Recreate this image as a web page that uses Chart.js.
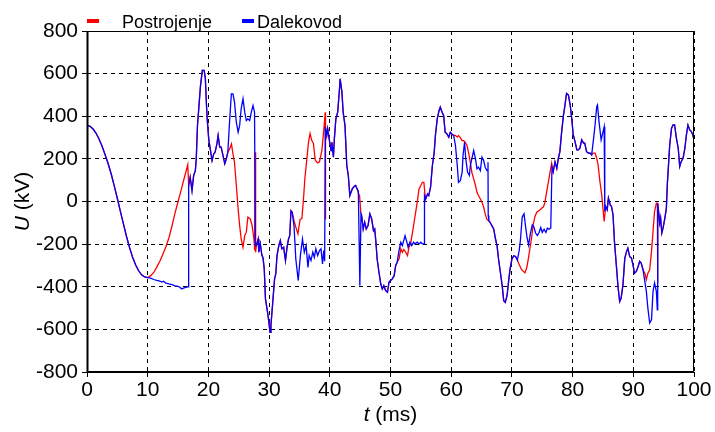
<!DOCTYPE html>
<html>
<head>
<meta charset="utf-8">
<script src="https://cdn.jsdelivr.net/npm/chart.js@4/dist/chart.umd.min.js"></script>
<style>
  html, body { margin: 0; padding: 0; background: #fff; }
  #wrap { width: 715px; height: 432px; }
</style>
</head>
<body>
<div id="wrap"><canvas id="napon" width="715" height="432"></canvas></div>
<script>
// Time (ms) and voltage (kV), red = Postrojenje
const tPostrojenje = [
  0, 0.5, 1, 1.5, 2, 2.5, 3, 3.5, 4, 4.5, 5, 5.5, 6, 6.5, 7, 7.5, 8, 8.5, 9, 9.5, 10,
  10.5, 11, 11.5, 12, 12.5, 13, 13.5, 14, 14.5, 15, 15.5, 16, 16.6,
  16.75, 17.0, 17.3, 17.57, 17.85, 18.0, 18.2, 18.45, 18.7, 19.0, 19.3, 19.5, 19.66, 19.8, 20.05, 20.3, 20.6, 20.87, 21.1, 21.4, 21.6, 21.86, 22.1, 22.4, 22.7, 22.95, 23.2,
  23.5, 23.8, 24.05, 24.3, 24.6, 24.9, 25.15, 25.4, 25.7, 25.98, 26.25, 26.5, 26.9, 27.2, 27.5, 27.62, 27.7, 27.78,
  27.9, 28.2, 28.3, 28.55, 28.8, 29.0, 29.2, 29.4, 29.66, 29.9, 30.15, 30.3, 30.6, 30.9, 31.1, 31.3, 31.6, 31.85, 32.1, 32.4, 32.7, 32.95, 33.2, 33.4, 33.6, 33.8,
  34.1, 34.4, 34.75, 35.1, 35.4, 35.65, 35.9, 36.2, 36.5, 36.75, 37.0, 37.3, 37.6, 38.0, 38.3, 38.7, 39.0, 39.25, 39.28, 39.31,
  39.5, 39.65, 39.9, 40.2, 40.35, 40.6, 40.75, 41.0, 41.3, 41.6, 41.7, 42.0, 42.2, 42.5, 42.8, 43.05, 43.3, 43.45, 43.7, 44.0, 44.26, 44.5,
  44.7, 44.9, 45.1,
  45.25, 45.5, 45.75, 46.0, 46.3, 46.6, 46.9, 47.2, 47.4, 47.6, 47.8, 48.1, 48.4, 48.65, 48.9, 49.2, 49.5, 49.75, 50.0, 50.3, 50.6, 50.85, 51.1,
  51.4, 51.7, 51.95, 52.2, 52.5, 52.8, 53.04, 53.3, 53.6, 53.9, 54.15, 54.45, 54.7, 55.0, 55.25, 55.5, 55.7,
  55.8, 56.1, 56.3, 56.6, 56.9, 57.2, 57.4, 57.7, 58.0, 58.2, 58.5, 58.76, 59.0, 59.3, 59.6, 59.86, 60.1, 60.4,
  60.7, 61.0, 61.2, 61.5, 61.8, 62.05, 62.3, 62.6, 62.9, 63.15, 63.4, 63.7, 64.0, 64.25, 64.5, 64.8, 65.07, 65.35, 65.6, 65.9,
  66.2, 66.45, 66.7, 67.0, 67.3, 67.55, 67.8, 68.1, 68.4, 68.65, 68.9, 69.2, 69.5, 69.7, 70.0, 70.3, 70.6, 70.9,
  71.1, 71.6, 72.15, 72.45, 72.7, 73.0, 73.25, 73.5, 73.8, 74.1, 74.6, 74.9, 75.2, 75.45, 75.7, 76.0, 76.3, 76.55,
  76.8, 77.1, 77.4, 77.65, 77.9, 78.2, 78.5, 78.75, 79.0, 79.3, 79.6, 79.85, 80.1, 80.4, 80.7, 80.95, 81.2, 81.5, 81.8, 82.0, 82.3, 82.6, 82.9, 83.14,
  83.4, 83.7, 83.97, 84.2, 84.5, 84.8, 85.05, 85.2,
  85.45, 85.7, 85.9, 86.2, 86.4, 86.66, 86.9, 87.2, 87.5, 87.76, 88.0, 88.3, 88.6, 88.9, 89.1, 89.4, 89.7, 89.95, 90.2, 90.5, 90.8, 91.05, 91.3, 91.6,
  91.9, 92.15, 92.4, 92.7, 93.0, 93.25, 93.5, 93.8, 93.96, 94.0, 94.05,
  94.2, 94.35, 94.5, 94.7, 94.9, 95.2, 95.45, 95.6, 95.8, 96.0, 96.3, 96.55, 96.8, 97.1, 97.4, 97.65, 97.9, 98.2, 98.5, 98.75, 99.0, 99.3, 99.56, 99.8, 100
];
const uPostrojenje = [
  357, 353, 340, 320, 292, 258, 218, 176, 128, 72, 14, -46, -105, -163, -215, -260, -297, -325, -344, -354, -357,
  -348, -333, -308, -280, -248, -212, -170, -115, -55, 0, 52, 108, 172,
  75, 114, 51, 122, 145, 200, 357, 450, 544, 615, 615, 576, 466, 388, 294, 247, 192, 223, 231, 270, 310, 255, 255, 216, 177, 200, 231,
  247, 270, 223, 184, 75, -35, -113, -176, -215, -160, -144, -74, -82, -113, -176, -230, 231, -238,
  -207, -176, -238, -199, -250, -265, -316, -457, -504, -551, -614, -582, -473, -363, -340, -254, -207, -183, -222, -215, -277, -215, -176, -160, -43, -50,
  -89, -120, -152, -84, -80, 6, 110, 194, 280, 319, 288, 272, 194, 181, 186, 240, 334, 419, -85, 349,
  310, 341, 294, 239, 278, 208, 294, 388, 419, 529, 576, 513, 419, 357, 169, 122, 28, 40, 59, 70, 75, 59,
  40, 28, -50,
  -66, -129, -97, -129, -113, -58, -82, -137, -129, -191, -270, -332, -387, -410, -395, -418, -426, -379, -371, -363, -348, -301, -285,
  -270, -222, -238, -225, -238, -254, -215, -200, -150, -95, -50, 5, 59, 75, 90, 90, 28,
  12, 35, 28, 67, 169, 231, 310, 388, 427, 443, 419, 403, 325, 317, 302, 325, 317, 310,
  310, 302, 310, 300, 286, 286, 278, 263, 223, 184, 137, 106, 75, 43, 28, 12, -3, -27, -58, -85,
  -90, -100, -113, -129, -176, -207, -270, -332, -395, -465, -473, -442, -363, -316, -270, -255, -258, -275,
  -290, -320, -335, -310, -270, -215, -170, -110, -70, -50, -40, -32, -25, -3, 40, 90, 140, 180,
  139, 186, 155, 202, 233, 328, 406, 453, 507, 500, 453, 391, 313, 281, 242, 242, 250, 289, 274, 274, 234, 227, 227, 219,
  227, 227, 203, 172, 94, 31, -47, -94,
  -23, -39, 16, -16, -23, -62, -190, -297, -406, -469, -453, -390, -266, -234, -219, -258, -266, -297, -336, -328, -305, -281, -289, -320,
  -336, -367, -336, -320, -234, -141, -47, -8, -8, -383, -8,
  -55, -102, -78, -148, -125, -78, -31, 78, 172, 266, 344, 359, 359, 297, 250, 164, 188, 203, 250, 313, 359, 336, 328, 313, 289
];

// blue = Dalekovod
const tDalekovod = [
  0, 0.5, 1, 1.5, 2, 2.5, 3, 3.5, 4, 4.5, 5, 5.5, 6, 6.5, 7, 7.5, 8, 8.5, 9, 9.5, 10,
  10.5, 11, 11.5, 12, 12.3, 12.6, 13, 13.5, 14, 14.5, 15, 15.3, 15.6, 16, 16.4, 16.7,
  16.75, 17.0, 17.3, 17.57, 17.85, 18.0, 18.2, 18.45, 18.7, 19.0, 19.3, 19.5, 19.66, 19.8, 20.05, 20.3, 20.6, 20.87, 21.1, 21.4, 21.6, 21.86, 22.1, 22.4, 22.7, 22.95, 23.2,
  23.5, 23.78, 24.05, 24.3, 24.6, 24.9, 25.15, 25.4, 25.7, 25.98, 26.25, 26.5, 26.8, 27.07, 27.35, 27.6, 27.73,
  27.9, 28.2, 28.3, 28.55, 28.8, 29.0, 29.2, 29.4, 29.66, 29.9, 30.15, 30.3, 30.6, 30.9, 31.1, 31.3, 31.6, 31.85, 32.1, 32.4, 32.7, 32.95, 33.2, 33.4, 33.6, 33.8,
  34.1, 34.4, 34.8, 35.15, 35.5, 35.8, 36.1, 36.4, 36.6, 36.9, 37.2, 37.45, 37.7, 38.0, 38.3, 38.55, 38.8, 39.0, 39.15, 39.27,
  39.5, 39.65, 39.9, 40.2, 40.35, 40.6, 40.75, 41.0, 41.3, 41.6, 41.7, 42.0, 42.2, 42.5, 42.8, 43.05, 43.3, 43.45, 43.7, 44.0, 44.26, 44.5,
  44.7, 44.95, 45.14,
  45.25, 45.5, 45.75, 46.0, 46.3, 46.6, 46.9, 47.2, 47.4, 47.6, 47.8, 48.1, 48.4, 48.65, 48.9, 49.2, 49.5, 49.75, 50.0, 50.3, 50.6, 50.85, 51.1,
  51.4, 51.7, 51.95, 52.4, 52.7, 52.9, 53.2, 53.5, 53.8, 54.0, 54.4, 54.7, 55.0, 55.25, 55.55, 55.6,
  55.8, 56.1, 56.3, 56.6, 56.9, 57.2, 57.4, 57.7, 58.0, 58.2, 58.5, 58.76, 59.0, 59.3, 59.6, 59.86, 60.1, 60.4,
  60.7, 61.0, 61.2, 61.5, 61.8, 61.95, 62.2, 62.4, 62.7, 63.0, 63.15, 63.4, 63.7, 64.0, 64.25, 64.5, 64.8, 65.07, 65.35, 65.6, 65.9, 66.06, 66.1,
  66.2, 66.45, 66.7, 67.0, 67.3, 67.55, 67.8, 68.1, 68.4, 68.65, 68.9, 69.2, 69.5, 69.7, 70.0, 70.3, 70.6, 70.9,
  71.2, 71.4, 71.7, 72.0, 72.3, 72.5, 72.75, 73.05, 73.36, 73.6, 73.9, 74.2, 74.5, 74.75, 75.0, 75.3, 75.6, 75.85, 76.1, 76.4, 76.6,
  76.8, 77.1, 77.4, 77.65, 77.9, 78.2, 78.5, 78.75, 79.0, 79.3, 79.6, 79.85, 80.1, 80.4, 80.7, 80.95, 81.2, 81.5, 81.8, 82.0, 82.3, 82.6, 82.9, 83.14,
  83.4, 83.7, 83.97, 84.1, 84.35, 84.7, 84.95, 85.2, 85.3,
  85.45, 85.7, 85.9, 86.2, 86.4, 86.66, 86.9, 87.2, 87.5, 87.76, 88.0, 88.3, 88.6, 88.9, 89.1, 89.4, 89.7, 89.95, 90.2, 90.5, 90.8, 91.05, 91.3, 91.6,
  91.9, 92.15, 92.4, 92.7, 93.0, 93.25, 93.5, 93.8, 93.96, 94.02,
  94.2, 94.35, 94.5, 94.7, 94.9, 95.2, 95.45, 95.6, 95.8, 96.0, 96.3, 96.55, 96.8, 97.1, 97.4, 97.65, 97.9, 98.2, 98.5, 98.75, 99.0, 99.3, 99.56, 99.8, 100
];
const uDalekovod = [
  357, 353, 340, 320, 292, 258, 218, 176, 128, 72, 14, -46, -105, -163, -215, -260, -297, -325, -344, -354, -357,
  -360, -366, -370, -373, -378, -374, -383, -387, -390, -396, -398, -402, -410, -405, -402, -400,
  75, 114, 51, 122, 145, 200, 357, 450, 544, 615, 615, 576, 466, 388, 294, 247, 192, 223, 231, 270, 310, 255, 255, 216, 177, 200, 231,
  380, 505, 505, 466, 372, 325, 357, 435, 482, 419, 380, 388, 380, 419, 450, 419, -207,
  -207, -176, -238, -199, -250, -265, -316, -457, -504, -551, -614, -582, -473, -363, -340, -254, -207, -183, -222, -215, -277, -215, -176, -160, -43, -50,
  -113, -270, -371, -254, -176, -238, -207, -309, -254, -277, -238, -262, -222, -254, -230, -222, -293, -230, -280, 349,
  310, 341, 294, 239, 278, 208, 294, 388, 419, 529, 576, 513, 419, 357, 169, 122, 28, 40, 59, 70, 75, 59,
  50, -395, -58,
  -66, -129, -97, -129, -113, -58, -82, -137, -129, -191, -270, -332, -387, -410, -395, -418, -426, -379, -371, -363, -348, -301, -285,
  -230, -191, -207, -160, -191, -215, -191, -207, -191, -199, -191, -199, -191, -199, -199, 28,
  12, 35, 28, 67, 169, 231, 310, 388, 427, 443, 419, 403, 325, 317, 302, 325, 317, 310,
  263, 169, 90, 98, 137, 216, 278, 200, 137, 122, 169, 200, 239, 200, 153, 161, 145, 208, 192, 161, 145, 184, -66,
  -90, -100, -113, -129, -176, -207, -270, -332, -395, -465, -473, -442, -363, -316, -270, -255, -258, -275,
  -230, -183, -73, -58, -128, -170, -205, -150, -110, -118, -148, -160, -144, -122, -145, -130, -145, -125, -130, -125, 160,
  139, 186, 155, 202, 233, 328, 406, 453, 507, 500, 453, 391, 313, 281, 242, 242, 250, 289, 274, 274, 234, 227, 227, 219,
  281, 359, 445, 453, 375, 289, 320, 351, -47,
  -23, -39, 16, -16, -23, -62, -190, -297, -406, -469, -453, -390, -266, -234, -219, -258, -266, -297, -336, -328, -305, -281, -289, -320,
  -375, -422, -500, -570, -555, -422, -383, -422, -508, -8,
  -55, -102, -78, -148, -125, -78, -31, 78, 172, 266, 344, 359, 359, 297, 250, 164, 188, 203, 250, 313, 359, 336, 328, 313, 289
];

const xTicks = [0, 10, 20, 30, 40, 50, 60, 70, 80, 90, 100];
const yTicks = [-800, -600, -400, -200, 0, 200, 400, 600, 800];
const seriesNames = ['Postrojenje', 'Dalekovod'];
const seriesColors = ['#ff0000', '#0000ff'];

const FONT = '"Liberation Sans", Arial, sans-serif';

function toPoints(ts, us) {
    return ts.map((t, i) => ({ x: t, y: us[i] }));
}

// frame, legend and axis titles (with italic symbols)
const decor = {
    id: 'decor',
    afterDraw(chart) {
        const ctx = chart.ctx;
        const a = chart.chartArea;
        ctx.save();
        ctx.strokeStyle = '#000';
        ctx.setLineDash([]);
        ctx.lineWidth = 1;
        ctx.strokeRect(a.left + 0.5, a.top + 0.5, a.right - a.left - 1, a.bottom - a.top - 1);
        ctx.lineWidth = 2;
        ctx.beginPath();
        ctx.moveTo(a.left + 0.5, a.top);
        ctx.lineTo(a.left + 0.5, a.bottom);
        ctx.lineTo(a.right, a.bottom);
        ctx.stroke();

        // legend
        const legendX = [a.left, a.left + 155];
        const textX = [a.left + 35, a.left + 170];
        ctx.font = '18px ' + FONT;
        ctx.textBaseline = 'alphabetic';
        ctx.textAlign = 'left';
        seriesNames.forEach((name, i) => {
            ctx.fillStyle = seriesColors[i];
            ctx.fillRect(legendX[i], 19, 12, 4);
            ctx.fillStyle = '#000';
            ctx.fillText(name, textX[i], 28);
        });

        // x title: t (ms)
        const cx = (a.left + a.right) / 2;
        ctx.font = 'italic 21px ' + FONT;
        const wT = ctx.measureText('t').width;
        ctx.font = '21px ' + FONT;
        const wRest = ctx.measureText(' (ms)').width;
        let x0 = cx - (wT + wRest) / 2;
        ctx.font = 'italic 21px ' + FONT;
        ctx.fillText('t', x0, 421);
        ctx.font = '21px ' + FONT;
        ctx.fillText(' (ms)', x0 + wT, 421);

        // y title: U (kV)
        const cy = (a.top + a.bottom) / 2;
        ctx.translate(29, cy);
        ctx.rotate(-Math.PI / 2);
        ctx.font = 'italic 21px ' + FONT;
        const wU = ctx.measureText('U').width;
        ctx.font = '21px ' + FONT;
        const wKv = ctx.measureText(' (kV)').width;
        x0 = -(wU + wKv) / 2;
        ctx.font = 'italic 21px ' + FONT;
        ctx.fillText('U', x0, 0);
        ctx.font = '21px ' + FONT;
        ctx.fillText(' (kV)', x0 + wU, 0);
        ctx.restore();
    }
};

const ctx = document.getElementById('napon').getContext('2d');
new Chart(ctx, {
    type: 'line',
    data: {
        datasets: [{
            label: seriesNames[0],
            data: toPoints(tPostrojenje, uPostrojenje),
            borderColor: seriesColors[0],
            borderWidth: 1.3,
            pointRadius: 0,
            fill: false,
            order: 2
        }, {
            label: seriesNames[1],
            data: toPoints(tDalekovod, uDalekovod),
            borderColor: seriesColors[1],
            borderWidth: 1.3,
            pointRadius: 0,
            fill: false,
            order: 1
        }]
    },
    options: {
        responsive: false,
        devicePixelRatio: 1,
        animation: false,
        events: [],
        layout: { padding: { left: 0, right: 21, top: 31, bottom: 0 } },
        plugins: {
            legend: { display: false },
            tooltip: { enabled: false }
        },
        scales: {
            x: {
                type: 'linear',
                min: 0,
                max: 100,
                afterFit(scale) { scale.height = 60; },
                afterBuildTicks(scale) { scale.ticks = xTicks.map(v => ({ value: v })); },
                ticks: { color: '#000', font: { family: FONT, size: 21 }, padding: 1, maxRotation: 0 },
                grid: { color: '#000', lineWidth: 1, tickLength: 5 },
                border: { display: false, dash: [4, 4] }
            },
            y: {
                type: 'linear',
                min: -800,
                max: 800,
                afterFit(scale) { scale.width = 87; },
                afterBuildTicks(scale) { scale.ticks = yTicks.map(v => ({ value: v })); },
                ticks: { color: '#000', font: { family: FONT, size: 21 }, padding: 4 },
                grid: { color: '#000', lineWidth: 1, tickLength: 5 },
                border: { display: false, dash: [4, 4] }
            }
        }
    },
    plugins: [decor]
});
</script>
</body>
</html>
